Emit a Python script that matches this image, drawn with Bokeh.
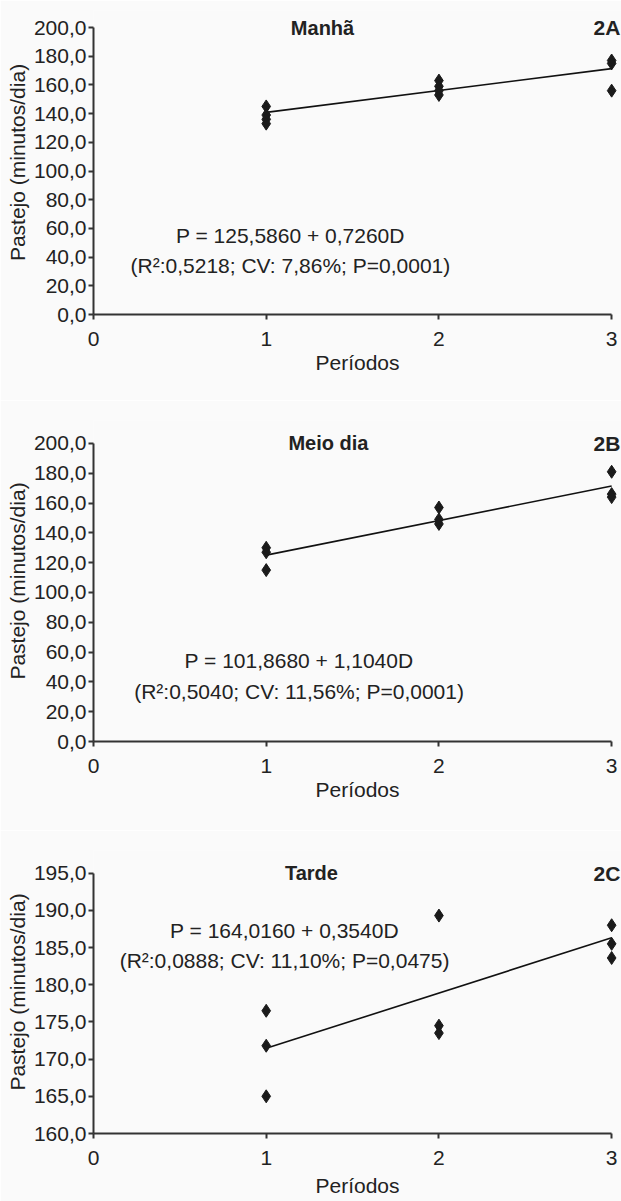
from bokeh.plotting import figure
from bokeh.models import FixedTicker, Label, Range1d
from bokeh.layouts import column
from bokeh.embed import file_html
from bokeh.resources import INLINE

# ---------------- data ----------------
periods_tick_labels = ["0", "1", "2", "3"]

# Panel 2A - Manhã
a_x = [1, 1, 1, 1, 2, 2, 2, 2, 3, 3, 3]
a_y = [145, 139, 136, 133, 163, 159, 156, 153, 177, 175, 156]
a_coef = [125.5860, 0.7260]

# Panel 2B - Meio dia
b_x = [1, 1, 1, 2, 2, 2, 3, 3, 3]
b_y = [130, 127, 115, 157, 149, 146, 181, 166, 164]
b_coef = [101.8680, 1.1040]

# Panel 2C - Tarde
c_x = [1, 1, 1, 2, 2, 2, 3, 3, 3]
c_y = [176.5, 171.8, 165.0, 189.3, 174.5, 173.5, 188.0, 185.5, 183.6]
c_coef = [164.0160, 0.3540]

days_per_period = 21
fit_periods = [1, 3]

a_ticks = [0, 20, 40, 60, 80, 100, 120, 140, 160, 180, 200]
b_ticks = [0, 20, 40, 60, 80, 100, 120, 140, 160, 180, 200]
c_ticks = [160, 165, 170, 175, 180, 185, 190, 195]

FONT = "Liberation Sans"
BG = "#fafafa"
INK = "#222222"
FS = "21px"


def fmt(v):
    return f"{v:.1f}".replace(".", ",")


def make_panel(height, top, bottom, y_start, y_end, y_ticks, xs, ys, coef,
               title, tag, title_x, eq1, eq2, eq_x, eq_y1, eq_y2,
               bottom_standoff):
    p = figure(width=621, height=height, output_backend="svg",
               toolbar_location=None,
               x_range=Range1d(0, 3.057), y_range=Range1d(y_start, y_end),
               min_border_left=93, min_border_right=0,
               min_border_top=top, min_border_bottom=bottom,
               background_fill_color=BG, border_fill_color=BG)
    p.outline_line_color = None
    p.grid.visible = False

    # axes
    p.xaxis.ticker = FixedTicker(ticks=[0, 1, 2, 3])
    p.xaxis.major_label_overrides = {i: s for i, s in enumerate(periods_tick_labels)}
    p.xaxis.bounds = (0, 3)
    p.xaxis.axis_label = "Períodos"
    p.xaxis.axis_label_standoff = bottom_standoff
    p.yaxis.ticker = FixedTicker(ticks=y_ticks)
    p.yaxis.major_label_overrides = {t: fmt(t) for t in y_ticks}
    p.yaxis.bounds = (y_ticks[0], y_ticks[-1])
    p.yaxis.axis_label = "Pastejo (minutos/dia)"
    p.yaxis.axis_label_standoff = 2
    p.xaxis.major_label_standoff = 12
    p.yaxis.major_label_standoff = 2
    for ax in (p.xaxis, p.yaxis):
        ax.axis_line_color = "#333333"
        ax.axis_line_width = 2
        ax.major_tick_line_color = "#333333"
        ax.major_tick_line_width = 2
        ax.major_tick_out = 5
        ax.major_tick_in = 0
        ax.minor_tick_line_color = None
        ax.major_label_text_font = FONT
        ax.major_label_text_font_size = FS
        ax.major_label_text_color = INK
        ax.axis_label_text_font = FONT
        ax.axis_label_text_font_size = FS
        ax.axis_label_text_font_style = "normal"
        ax.axis_label_text_color = INK

    # regression line
    fit_y = [coef[0] + coef[1] * days_per_period * x for x in fit_periods]
    p.line(fit_periods, fit_y, line_color="#111111", line_width=1.6)

    # observations
    p.scatter(xs, ys, marker="diamond", size=13,
              fill_color="#1a1a1a", line_color="#1a1a1a")

    # titles
    p.add_layout(Label(x=title_x, y=y_ticks[-1], text=title, text_align="center",
                       text_baseline="middle", text_font=FONT,
                       text_font_size="20px", text_font_style="bold",
                       text_color=INK))
    p.add_layout(Label(x=3.05, y=y_ticks[-1], text=tag, text_align="right",
                       text_baseline="middle", text_font=FONT,
                       text_font_size="21px", text_font_style="bold",
                       text_color=INK))
    # equation
    p.add_layout(Label(x=eq_x, y=eq_y1, text=eq1, text_align="center",
                       text_baseline="middle", text_font=FONT,
                       text_font_size=FS, text_color=INK))
    p.add_layout(Label(x=eq_x, y=eq_y2, text=eq2, text_align="center",
                       text_baseline="middle", text_font=FONT,
                       text_font_size=FS, text_color=INK))
    return p


pa = make_panel(400, 10, 86, 0, 211.85, a_ticks, a_x, a_y, a_coef,
                "Manhã", "2A", 1.326,
                "P = 125,5860 + 0,7260D",
                "(R²:0,5218; CV: 7,86%; P=0,0001)",
                1.14, 55.0, 34.1, 2)
pb = make_panel(430, 20, 89, 0, 215.4, b_ticks, b_x, b_y, b_coef,
                "Meio dia", "2B", 1.36,
                "P = 101,8680 + 1,1040D",
                "(R²:0,5040; CV: 11,56%; P=0,0001)",
                1.19, 54.4, 33.8, 2)
pc = make_panel(371, 20, 68, 160, 198.05, c_ticks, c_x, c_y, c_coef,
                "Tarde", "2C", 1.262,
                "P = 164,0160 + 0,3540D",
                "(R²:0,0888; CV: 11,10%; P=0,0475)",
                1.106, 187.3, 183.3, 6)

layout = column(pa, pb, pc, spacing=0)
open("out.html", "w").write(file_html(layout, INLINE))
